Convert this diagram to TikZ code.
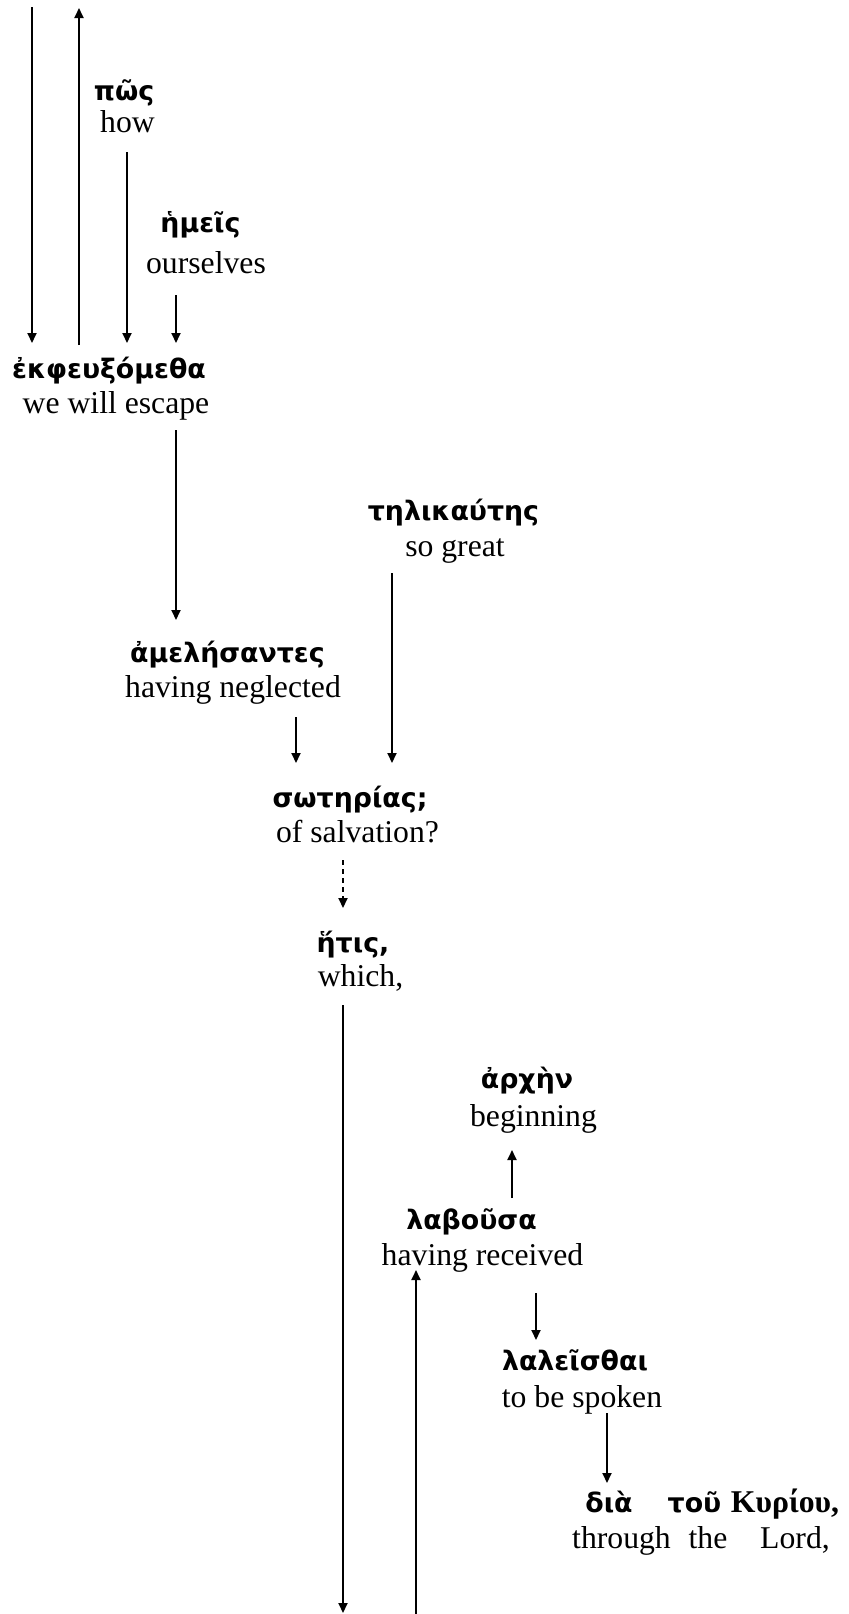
\documentclass[tikz,border=0pt]{standalone}
\usepackage{fontspec}
\setmainfont{Liberation Serif}
\newfontfamily\greekfont{DejaVu Sans}
\newfontfamily\greekserif{Liberation Serif}
\usetikzlibrary{arrows.meta}
\tikzset{
	gk/.style={anchor=base, inner sep=0pt, font=\greekfont\bfseries\fontsize{13.4}{15}\selectfont},
	gkserif/.style={anchor=base, inner sep=0pt, font=\greekserif\bfseries\fontsize{15.85}{18}\selectfont},
	en/.style={anchor=base, inner sep=0pt, font=\fontsize{15.85}{18}\selectfont},
	link/.style={line width=0.9pt, -{Triangle[length=5pt,width=4.5pt]}},
	dashlink/.style={link, dash pattern=on 2.5pt off 2pt}
}

\begin{document}
\begin{tikzpicture}[x=0.5pt, y=-0.5pt]
	\useasboundingbox (0,0) rectangle (848,1614);
	\coordinate (topL) at (32,7);
	\coordinate (topR) at (79,8);
	\coordinate (botA) at (343,1613);
	\coordinate (botB) at (416,1614);
	\node[gk] (gpos) at (124,100) {πῶς};
	\node[en] (ehow) at (127.5,132) {how};
	\node[gk] (ghmeis) at (200.5,232) {ἡμεῖς};
	\node[en] (eour) at (206,273) {ourselves};
	\node[gk] (gverb) at (109,378) {ἐκφευξόμεθα};
	\node[en] (everb) at (116,413) {we will escape};
	\node[gk] (gtel) at (453.5,520) {τηλικαύτης};
	\node[en] (egreat) at (455,556) {so great};
	\node[gk] (gamel) at (227.5,662) {ἀμελήσαντες};
	\node[en] (eneg) at (233,697) {having neglected};
	\node[gk] (gsot) at (350,807) {σωτηρίας;};
	\node[en] (esalv) at (357.5,842) {of salvation?};
	\node[gk] (ghtis) at (353,952) {ἥτις,};
	\node[en] (ewhich) at (360.5,986) {which,};
	\node[gk] (garch) at (527,1088) {ἀρχὴν};
	\node[en] (ebeg) at (533.5,1126) {beginning};
	\node[gk] (glab) at (471.5,1229) {λαβοῦσα};
	\node[en] (erec) at (482.5,1265) {having received};
	\node[gk] (glal) at (575,1370) {λαλεῖσθαι};
	\node[en] (espok) at (582,1407) {to be spoken};
	\node[gk] (gdia) at (609,1512) {διὰ};
	\node[gk] (gtou) at (694.5,1512) {τοῦ};
	\node[gkserif] (gkyr) at (785,1512) {Κυρίου,};
	\node[en] (ethr) at (621.5,1548) {through};
	\node[en] (ethe) at (708,1548) {the};
	\node[en] (elord) at (795,1548) {Lord,};
	\draw[link, shorten >=17.5pt] (topL) -- (gverb.base -| 32,0);
	\draw[link, shorten <=16.5pt] (gverb.base -| 79,0) -- (topR);
	\draw[link, shorten <=10pt, shorten >=17.5pt] (ehow.base -| 127,0) -- (gverb.base -| 127,0);
	\draw[link, shorten <=11pt, shorten >=17.5pt] (eour.base -| 176,0) -- (gverb.base -| 176,0);
	\draw[link, shorten <=8.5pt, shorten >=21pt] (everb.base -| 176,0) -- (gamel.base -| 176,0);
	\draw[link, shorten <=8.5pt, shorten >=22pt] (egreat.base -| 392,0) -- (gsot.base -| 392,0);
	\draw[link, shorten <=10pt, shorten >=22pt] (eneg.base -| 296,0) -- (gsot.base -| 296,0);
	\draw[dashlink, shorten <=9pt, shorten >=22pt] (esalv.base -| 343,0) -- (ghtis.base -| 343,0);
	\draw[link, shorten <=9.5pt] (ewhich.base -| 343,0) -- (botA);
	\draw[link, shorten <=15.5pt, shorten >=12pt] (glab.base -| 512,0) -- (ebeg.base -| 512,0);
	\draw[link, shorten >=2.5pt] (botB) -- (erec.base -| 416,0);
	\draw[link, shorten <=14pt, shorten >=15pt] (erec.base -| 536,0) -- (glal.base -| 536,0);
	\draw[link, shorten <=3pt, shorten >=14.5pt] (espok.base -| 607,0) -- (gdia.base -| 607,0);
\end{tikzpicture}
\end{document}
